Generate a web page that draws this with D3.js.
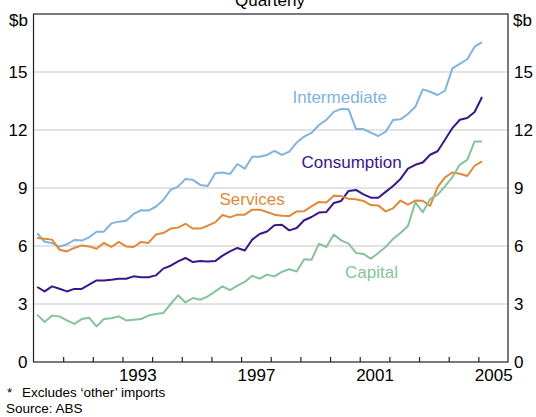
<!DOCTYPE html>
<html><head><meta charset="utf-8">
<script src="https://cdn.jsdelivr.net/npm/d3@7/dist/d3.min.js"></script>
<style>
body{margin:0;background:#fff;}
svg{display:block;font-family:"Liberation Sans",Arial,sans-serif;}
</style></head><body>
<svg id="chart" width="536" height="417"></svg>
<script>
// Quarterly data, 1990 Q1 – 2005 Q1 ($b)
const startYear = 1990;
const intermediate = [6.66,6.22,6.15,5.97,6.09,6.31,6.28,6.45,6.74,6.74,7.17,7.26,7.31,7.66,7.85,7.83,8.03,8.38,8.9,9.07,9.47,9.42,9.16,9.1,9.76,9.8,9.72,10.24,10.0,10.62,10.62,10.71,10.92,10.71,10.88,11.35,11.66,11.85,12.26,12.52,12.94,13.09,13.07,12.05,12.05,11.86,11.69,11.91,12.52,12.55,12.83,13.2,14.1,13.98,13.81,14.03,15.19,15.42,15.66,16.31,16.54];
const consumption = [3.88,3.65,3.91,3.79,3.65,3.78,3.78,4.0,4.22,4.22,4.26,4.31,4.31,4.43,4.38,4.38,4.48,4.83,4.98,5.2,5.38,5.17,5.22,5.2,5.22,5.5,5.72,5.9,5.77,6.33,6.62,6.75,7.07,7.1,6.81,6.93,7.33,7.5,7.73,7.76,8.22,8.33,8.85,8.9,8.67,8.5,8.5,8.8,9.1,9.47,10.0,10.2,10.32,10.72,10.9,11.5,12.1,12.53,12.62,12.93,13.71];
const services = [6.41,6.38,6.33,5.81,5.72,5.9,6.03,5.98,5.86,6.16,5.95,6.21,5.98,5.95,6.21,6.16,6.59,6.67,6.9,6.95,7.15,6.9,6.9,7.05,7.22,7.6,7.48,7.62,7.62,7.88,7.88,7.76,7.62,7.57,7.55,7.79,7.8,8.05,8.28,8.25,8.6,8.58,8.44,8.42,8.33,8.12,8.1,7.79,7.95,8.35,8.14,8.35,8.34,8.07,9.05,9.55,9.8,9.74,9.62,10.15,10.38];
const capital = [2.45,2.07,2.41,2.36,2.15,1.97,2.22,2.29,1.84,2.22,2.26,2.36,2.15,2.19,2.22,2.4,2.48,2.53,3.0,3.45,3.08,3.31,3.22,3.39,3.65,3.91,3.72,3.95,4.14,4.46,4.31,4.52,4.43,4.66,4.8,4.68,5.31,5.29,6.12,5.95,6.59,6.29,6.12,5.64,5.59,5.34,5.64,5.95,6.37,6.67,7.03,8.26,7.75,8.42,8.66,9.08,9.56,10.21,10.45,11.41,11.41];
const seriesNames = ["Intermediate","Consumption","Services","Capital"];
const seriesColors = ["#80b3e0","#3a1787","#e0893a","#86c39a"];
const yTicks = [0,3,6,9,12,15];
const xLabelYears = [1993,1997,2001,2005];
const xTickYears = d3.range(1991,2006);

const svg = d3.select("#chart");
const L = 33.5, R = 508, T = 14, B = 362;
const x = d3.scaleLinear().domain([1990, 2006]).range([L, R]);
const y = d3.scaleLinear().domain([0, 18]).range([B, T]);
const tq = i => startYear + 0.125 + i * 0.25;

// gridlines
svg.append("g").selectAll("line").data(yTicks.filter(d => d > 0)).join("line")
  .attr("x1", L).attr("x2", R).attr("y1", d => y(d)).attr("y2", d => y(d))
  .attr("stroke", "#c8c8c8").attr("stroke-width", 1.2);

// lines
const series = [intermediate, consumption, services, capital];
const line = d3.line().x((d, i) => x(tq(i))).y(d => y(d));
series.forEach((s, k) => {
  svg.append("path").datum(s).attr("d", line)
    .attr("fill", "none").attr("stroke", seriesColors[k]).attr("stroke-width", 2)
    .attr("stroke-linejoin", "round");
});

// frame
svg.append("rect").attr("x", L).attr("y", T).attr("width", R - L).attr("height", B - T)
  .attr("fill", "none").attr("stroke", "#222").attr("stroke-width", 1.2);

// x ticks inward
const xAx = svg.append("g").attr("transform", `translate(0,${B})`)
  .call(d3.axisBottom(x).tickValues(xTickYears).tickSize(-5).tickFormat(""));
xAx.select(".domain").remove();
xAx.selectAll("line").attr("stroke", "#222").attr("stroke-width", 1.2);

// x labels centred in year
const xl = svg.append("g").attr("transform", `translate(0,${B})`)
  .call(d3.axisBottom(x)
    .tickValues(xLabelYears.map(d => d + 0.5)).tickSize(0).tickPadding(7)
    .tickFormat(d => String(Math.floor(d))));
xl.select(".domain").remove();
xl.selectAll("text").attr("font-size", 17).attr("font-family", "Liberation Sans, Arial, sans-serif").attr("fill", "#000");

// y labels both sides
const yl = svg.append("g").attr("transform", `translate(${L},0)`)
  .call(d3.axisLeft(y).tickValues(yTicks).tickSize(0).tickPadding(6));
yl.select(".domain").remove();
yl.selectAll("text").attr("font-size", 17).attr("font-family", "Liberation Sans, Arial, sans-serif").attr("fill", "#000");
const yr = svg.append("g").attr("transform", `translate(${R},0)`)
  .call(d3.axisRight(y).tickValues(yTicks).tickSize(0).tickPadding(6));
yr.select(".domain").remove();
yr.selectAll("text").attr("font-size", 17).attr("font-family", "Liberation Sans, Arial, sans-serif").attr("fill", "#000");

// units
svg.append("text").attr("x", 28).attr("y", 26).attr("text-anchor", "end").attr("font-size", 17).text("$b");
svg.append("text").attr("x", 513).attr("y", 26).attr("text-anchor", "start").attr("font-size", 17).text("$b");

// title (partly cut off at the top, as in the reference)
svg.append("text").attr("x", 270).attr("y", 6).attr("text-anchor", "middle").attr("font-size", 17).text("Quarterly");

// series labels
const labelPos = [[292.5, 103], [301.5, 168], [219.5, 205], [345, 278]];
seriesNames.forEach((n, k) => {
  svg.append("text").attr("x", labelPos[k][0]).attr("y", labelPos[k][1])
    .attr("font-size", 17).attr("fill", seriesColors[k]).text(n);
});

// footnotes
svg.append("text").attr("x", 7).attr("y", 397).attr("font-size", 13.5).text("*");
svg.append("text").attr("x", 22).attr("y", 397).attr("font-size", 13.5).text("Excludes  \u2018other\u2019 imports");
svg.append("text").attr("x", 6).attr("y", 413).attr("font-size", 13.5).text("Source: ABS");
</script></body></html>
